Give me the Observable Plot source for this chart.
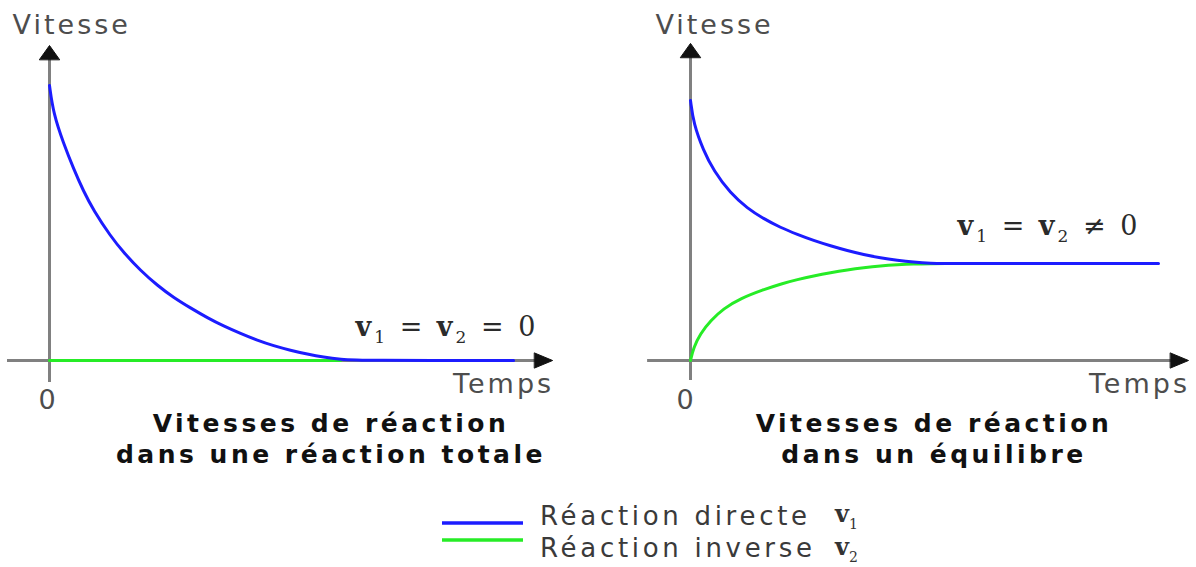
<!DOCTYPE html>
<html><head><meta charset="utf-8">
<script src="https://cdn.jsdelivr.net/npm/d3@7"></script>
<script src="https://cdn.jsdelivr.net/npm/@observablehq/plot@0.6"></script>
<style>
html,body{margin:0;padding:0;background:#fff;}
#wrap{position:relative;width:1196px;height:567px;overflow:hidden;background:#fff;}
#left{position:absolute;left:0;top:0;}
#right{position:absolute;left:598px;top:0;}
#below{position:absolute;left:0;top:410px;}
</style></head><body>
<div id="wrap"><div id="left"></div><div id="right"></div><svg id="below" width="1196" height="157"></svg></div>
<script>
// ---- data (time, speed in arbitrary units) ----
const totalDirectT = [0, 0.13, 0.47, 0.8, 1.13, 1.47, 2.03, 2.47, 3.03, 3.6, 4.13, 4.7, 5.27, 5.8, 6.37, 6.93, 7.47, 8.03, 8.6, 9.13, 9.7, 10.37, 15.47];
const totalDirectV = [9.17, 8.23, 7.23, 6.4, 5.65, 5.0, 4.15, 3.6, 3.0, 2.5, 2.1, 1.75, 1.42, 1.15, 0.9, 0.67, 0.49, 0.34, 0.21, 0.11, 0.04, 0, 0];
const totalInverseT = [0, 9.7];
const totalInverseV = [0, 0];

const eqDirectT = [0, 0.1, 0.43, 0.77, 1.33, 1.9, 2.43, 3.0, 3.57, 4.1, 4.67, 5.23, 5.77, 6.33, 6.9, 7.43, 8.0, 8.6, 15.6];
const eqDirectV = [8.67, 7.9, 7.0, 6.33, 5.57, 5.07, 4.73, 4.43, 4.2, 4.0, 3.82, 3.66, 3.53, 3.42, 3.34, 3.28, 3.24, 3.23, 3.23];
const eqInverseT = [0, 0.1, 0.33, 0.67, 1.1, 1.67, 2.43, 3.0, 3.57, 4.1, 4.67, 5.23, 5.77, 6.33, 6.9, 7.43, 8.0, 8.6];
const eqInverseV = [0, 0.43, 0.9, 1.33, 1.73, 2.07, 2.36, 2.55, 2.7, 2.82, 2.93, 3.02, 3.09, 3.15, 3.19, 3.22, 3.23, 3.23];

const axisTitles = ["Vitesse", "Temps", "0"];
const formulas = ["v\u2081 = v\u2082 = 0", "v\u2081 = v\u2082 \u2260 0"];
const panelTitles = [["Vitesses de réaction", "dans une réaction totale"], ["Vitesses de réaction", "dans un équilibre"]];
const legendLabels = ["Réaction directe", "Réaction inverse"];
const legendSymbols = ["v\u2081", "v\u2082"];

// ---- styles ----
const blue = "#1c1cff", green = "#26ec26", axisGray = "#808080", headColor = "#111";

const rows = (T, V) => T.map((t, i) => ({t, v: V[i]}));
const arrowHead = {draw(ctx, l, r) { ctx.moveTo(-r, 0); ctx.lineTo(0, -l); ctx.lineTo(r, 0); ctx.closePath(); }};

function panel(o, useVector) {
  const heads = useVector ? [
    Plot.vector([0], {x: o.xEnd, y: 0, rotate: 90, length: 18, r: 7.5, anchor: "end", shape: arrowHead, fill: headColor, stroke: headColor, strokeWidth: 1}),
    Plot.vector([0], {x: 0, y: o.yEnd, rotate: 0, length: 14, r: 10, anchor: "end", shape: arrowHead, fill: headColor, stroke: headColor, strokeWidth: 1})
  ] : [
    Plot.dot([0], {x: o.xEnd - 0.3, y: 0, symbol: "triangle", r: 6, rotate: 90, fill: headColor}),
    Plot.dot([0], {x: 0, y: o.yEnd - 0.25, symbol: "triangle", r: 6, fill: headColor})
  ];
  return Plot.plot({
    width: 598, height: 410, margin: 0,
    x: {domain: [0, 10], range: [o.x0, o.x0 + 300], axis: null},
    y: {domain: [0, 10], range: [360, 60], axis: null},
    style: "font-family:'DejaVu Sans',sans-serif;letter-spacing:3px;overflow:visible;background:transparent;",
    marks: [
      Plot.ruleY([0], {x1: o.xStart, x2: o.xEnd - 0.4, stroke: axisGray, strokeWidth: 3}),
      Plot.ruleX([0], {y1: o.yStart, y2: o.yEnd - 0.3, stroke: axisGray, strokeWidth: 3}),
      Plot.line(rows(o.invT, o.invV), {x: "t", y: "v", stroke: green, strokeWidth: 3, curve: "basis"}),
      Plot.line(rows(o.dirT, o.dirV), {x: "t", y: "v", stroke: blue, strokeWidth: 3, curve: "basis"}),
      ...heads,
      Plot.text([axisTitles[0]], {x: o.yLabelX, y: 10.87, text: d => d, textAnchor: "start", lineAnchor: "bottom", fontSize: 27, fill: "#4d4d4d"}),
      Plot.text([axisTitles[1]], {x: o.xEnd + 0.05, y: -1.07, text: d => d, textAnchor: "end", lineAnchor: "bottom", fontSize: 27, fill: "#4d4d4d"}),
      Plot.text([axisTitles[2]], {x: o.zeroX, y: -1.6, text: d => d, textAnchor: "middle", lineAnchor: "bottom", fontSize: 27, fill: "#4d4d4d"}),
      Plot.text([o.formula], {x: o.fx, y: o.fy, text: d => d, textAnchor: "start", lineAnchor: "bottom", fontSize: 27, fontFamily: "'DejaVu Serif',serif", fill: "#2b2b2b"})
    ]
  });
}

// turn "v₁" style subscripts into real lowered tspans
const SUB = {"\u2081": "1", "\u2082": "2"};
function mathify(textEl, str, subSize, drop) {
  const el = d3.select(textEl);
  el.text(null);
  let lowered = false;
  for (const ch of str) {
    const t = el.append("tspan");
    if (SUB[ch]) {
      t.attr("font-size", subSize).attr("dy", drop).attr("font-weight", "normal").text(SUB[ch]);
      lowered = true;
    } else {
      if (lowered) { t.attr("dy", -drop); lowered = false; }
      if (ch === "v") t.attr("font-weight", "bold");
      t.text(ch);
    }
  }
}

const leftOpts = {x0: 49, dirT: totalDirectT, dirV: totalDirectV, invT: totalInverseT, invV: totalInverseV,
  xStart: -1.4, xEnd: 16.77, yStart: -0.73, yEnd: 10.5, yLabelX: -1.23, zeroX: -0.03, formula: formulas[0], fx: 10.2, fy: 0.83};
const rightOpts = {x0: 92, dirT: eqDirectT, dirV: eqDirectV, invT: eqInverseT, invV: eqInverseV,
  xStart: -1.43, xEnd: 16.6, yStart: -0.67, yEnd: 10.57, yLabelX: -1.17, zeroX: -0.13, formula: formulas[1], fx: 8.9, fy: 4.2};

function build(opts) {
  let svg;
  try { svg = panel(opts, true); } catch (e) { svg = panel(opts, false); }
  d3.select(svg).selectAll("text").each(function () {
    if (this.textContent === opts.formula) mathify(this, opts.formula, 17, 7);
  });
  return svg;
}
document.getElementById("left").appendChild(build(leftOpts));
document.getElementById("right").appendChild(build(rightOpts));

// ---- panel titles and legend below the plots ----
const below = d3.select("#below").style("font-family", "'DejaVu Sans',sans-serif");
const titleCenters = [331, 934];
panelTitles.forEach((lines, i) => lines.forEach((s, j) => {
  below.append("text").attr("x", titleCenters[i]).attr("y", 22 + j * 31)
    .attr("text-anchor", "middle").attr("font-weight", "bold").attr("font-size", 25)
    .attr("letter-spacing", "3.5px").attr("fill", "#111").text(s);
}));
const legendColors = [blue, green];
legendLabels.forEach((s, i) => {
  below.append("line").attr("x1", 442).attr("x2", 523).attr("y1", 113 + i * 17).attr("y2", 113 + i * 17)
    .attr("stroke", legendColors[i]).attr("stroke-width", 3.5);
  below.append("text").attr("x", 540).attr("y", 115 + i * 32).attr("font-size", 26)
    .attr("letter-spacing", "3.7px").attr("fill", "#3a3a3a").text(s);
  const sym = below.append("text").attr("x", 835).attr("y", 112 + i * 33).attr("font-size", 24)
    .attr("font-family", "'DejaVu Serif',serif").attr("fill", "#333").node();
  mathify(sym, legendSymbols[i], 14, 7);
});
</script>
</body></html>
